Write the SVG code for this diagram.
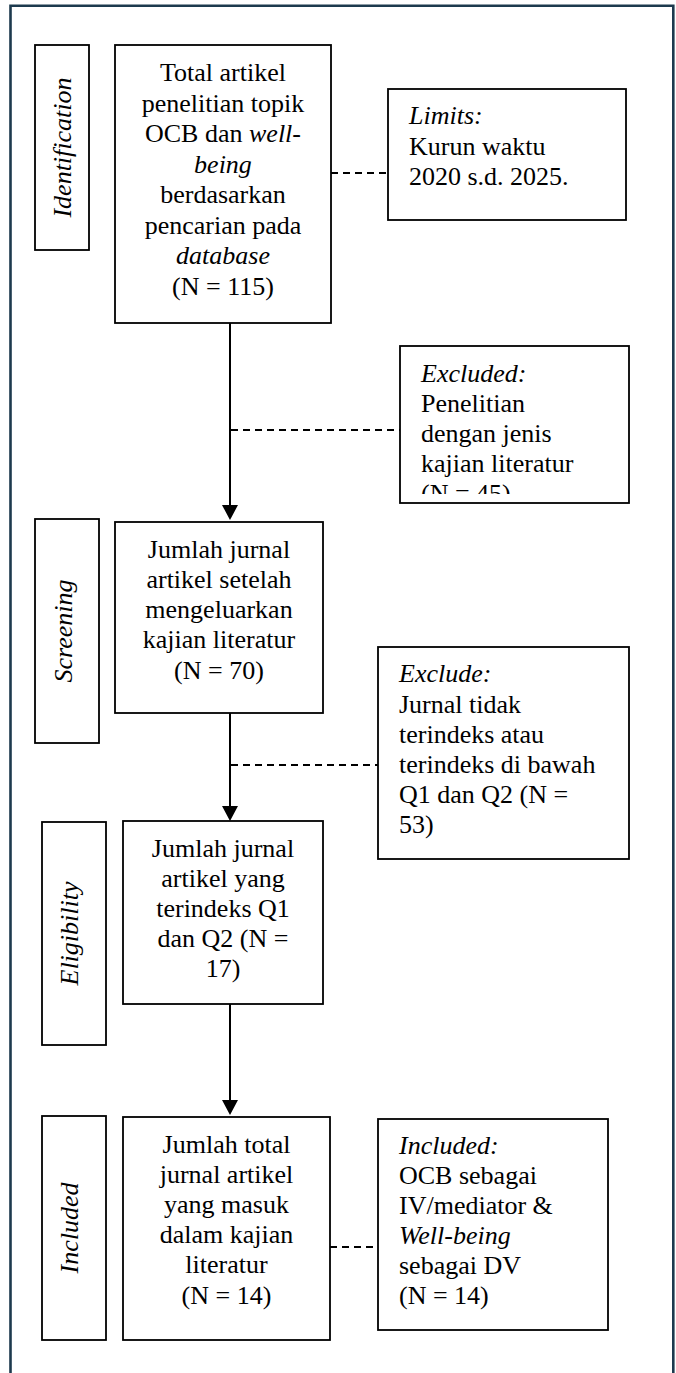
<svg xmlns="http://www.w3.org/2000/svg" width="676" height="1373" viewBox="0 0 676 1373">
<style>
.box{fill:#fff;stroke:#000;stroke-width:1.8}
.frame{fill:none;stroke:#1d3a4e;stroke-width:2.6}
.t{font-family:"Liberation Serif","Times New Roman",serif;font-size:26px;fill:#000}
.c{text-anchor:middle}
.i{font-style:italic}
.flow{stroke:#000;stroke-width:2;fill:none}
.dash{stroke:#000;stroke-width:1.8;stroke-dasharray:7 5;fill:none}
</style>
<defs>
<marker id="arr" viewBox="0 0 15 16" refX="0" refY="8" markerWidth="15" markerHeight="16" markerUnits="userSpaceOnUse" orient="auto">
<path d="M0,0 L15,8 L0,16 Z" fill="#000"/>
</marker>
<clipPath id="clipEx"><rect x="400" y="346" width="229" height="148"/></clipPath>
</defs>
<path class="frame" d="M10.5,1380 V5.8 H673.3 V1380"/>

<g id="connectors">
<line class="flow" x1="230" y1="323" x2="230" y2="505" marker-end="url(#arr)"/>
<line class="flow" x1="230" y1="713" x2="230" y2="806" marker-end="url(#arr)"/>
<line class="flow" x1="230" y1="1004" x2="230" y2="1100" marker-end="url(#arr)"/>
<line class="dash" x1="331" y1="173" x2="388" y2="173"/>
<line class="dash" x1="231" y1="430" x2="400" y2="430"/>
<line class="dash" x1="231" y1="765" x2="378" y2="765"/>
<line class="dash" x1="330" y1="1247" x2="378" y2="1247"/>
</g>

<g id="label-identification">
<rect class="box" x="35" y="45" width="54" height="205"/>
<text class="t c i" transform="translate(71,147.5) rotate(-90)">Identification</text>
</g>
<g id="label-screening">
<rect class="box" x="35" y="519" width="64" height="224"/>
<text class="t c i" transform="translate(72,631) rotate(-90)">Screening</text>
</g>
<g id="label-eligibility">
<rect class="box" x="42" y="822" width="64" height="223"/>
<text class="t c i" transform="translate(78,933.5) rotate(-90)">Eligibility</text>
</g>
<g id="label-included">
<rect class="box" x="42" y="1116" width="64" height="224"/>
<text class="t c i" transform="translate(78,1228) rotate(-90)">Included</text>
</g>

<g id="box-total">
<rect class="box" x="115" y="45" width="216" height="278"/>
<text class="t c" x="223" y="81">Total artikel</text>
<text class="t c" x="223" y="111.5">penelitian topik</text>
<text class="t c" x="223" y="142">OCB dan <tspan class="i">well-</tspan></text>
<text class="t c i" x="223" y="172.5">being</text>
<text class="t c" x="223" y="203">berdasarkan</text>
<text class="t c" x="223" y="233.5">pencarian pada</text>
<text class="t c i" x="223" y="264">database</text>
<text class="t c" x="223" y="294.5">(N = 115)</text>
</g>

<g id="box-limits">
<rect class="box" x="388" y="89" width="238" height="131"/>
<text class="t i" x="409" y="124">Limits:</text>
<text class="t" x="409" y="155">Kurun waktu</text>
<text class="t" x="409" y="185">2020 s.d. 2025.</text>
</g>

<g id="box-excluded">
<rect class="box" x="400" y="346" width="229" height="157"/>
<g clip-path="url(#clipEx)">
<text class="t i" x="421" y="382">Excluded:</text>
<text class="t" x="421" y="412">Penelitian</text>
<text class="t" x="421" y="442">dengan jenis</text>
<text class="t" x="421" y="472">kajian literatur</text>
<text class="t" x="421" y="502">(N = 45)</text>
</g>
</g>

<g id="box-screening">
<rect class="box" x="115" y="522" width="208" height="191"/>
<text class="t c" x="219" y="558">Jumlah jurnal</text>
<text class="t c" x="219" y="588">artikel setelah</text>
<text class="t c" x="219" y="618">mengeluarkan</text>
<text class="t c" x="219" y="648">kajian literatur</text>
<text class="t c" x="219" y="679">(N = 70)</text>
</g>

<g id="box-exclude">
<rect class="box" x="378" y="647" width="251" height="212"/>
<text class="t i" x="399" y="682">Exclude:</text>
<text class="t" x="399" y="713">Jurnal tidak</text>
<text class="t" x="399" y="743">terindeks atau</text>
<text class="t" x="399" y="773">terindeks di bawah</text>
<text class="t" x="399" y="803">Q1 dan Q2 (N =</text>
<text class="t" x="399" y="833">53)</text>
</g>

<g id="box-eligibility">
<rect class="box" x="123" y="821" width="200" height="183"/>
<text class="t c" x="223" y="857">Jumlah jurnal</text>
<text class="t c" x="223" y="887">artikel yang</text>
<text class="t c" x="223" y="917">terindeks Q1</text>
<text class="t c" x="223" y="947">dan Q2 (N =</text>
<text class="t c" x="223" y="977">17)</text>
</g>

<g id="box-included">
<rect class="box" x="123" y="1117" width="207" height="223"/>
<text class="t c" x="226.5" y="1153">Jumlah total</text>
<text class="t c" x="226.5" y="1183">jurnal artikel</text>
<text class="t c" x="226.5" y="1213">yang masuk</text>
<text class="t c" x="226.5" y="1243">dalam kajian</text>
<text class="t c" x="226.5" y="1273">literatur</text>
<text class="t c" x="226.5" y="1304">(N = 14)</text>
</g>

<g id="box-included-criteria">
<rect class="box" x="378" y="1119" width="230" height="211"/>
<text class="t i" x="399" y="1154">Included:</text>
<text class="t" x="399" y="1184">OCB sebagai</text>
<text class="t" x="399" y="1214">IV/mediator &amp;</text>
<text class="t i" x="399" y="1244">Well-being</text>
<text class="t" x="399" y="1274">sebagai DV</text>
<text class="t" x="399" y="1304">(N = 14)</text>
</g>
</svg>
